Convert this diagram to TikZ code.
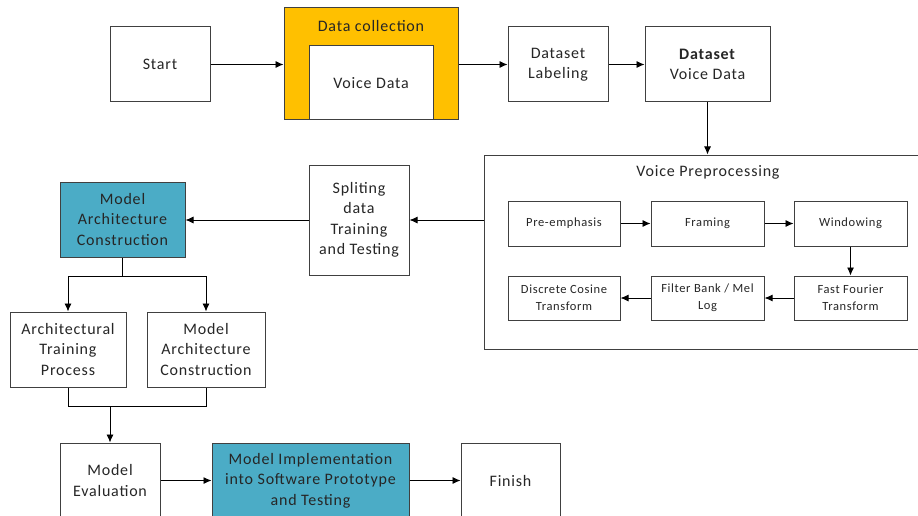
\documentclass[tikz,border=0pt]{standalone}
\usepackage{fontspec}
\setmainfont{Carlito}[LetterSpace=5]
\usetikzlibrary{arrows.meta}
\definecolor{gold}{HTML}{FFC000}
\definecolor{teal}{HTML}{4BACC6}
\definecolor{edge}{HTML}{404040}
\definecolor{txt}{HTML}{262626}
\tikzset{
  box/.style={draw=edge, line width=1pt, fill=white, inner sep=0pt, align=center,
    text=txt, font=\fontsize{16}{20.5}\selectfont},
  smallbox/.style={box, font=\fontsize{12.5}{17}\selectfont},
  arr/.style={-{Latex[length=8pt,width=7pt]}, line width=0.9pt, draw=black},
  ln/.style={line width=0.9pt, draw=black},
}
\begin{document}
\begin{tikzpicture}[x=1pt,y=-1pt]
\useasboundingbox (0,0) rectangle (918,516);
\clip (0,0) rectangle (918,516);
% top row
\node[box, minimum width=100pt, minimum height=75pt] (start) at (160,64.5) {Start};
\node[box, fill=gold, minimum width=174pt, minimum height=112pt] (dc) at (371,64) {};
\node[text=txt, font=\fontsize{16}{20.5}\selectfont] (dclab) at (371,26) {Data collection};
\node[box, minimum width=124pt, minimum height=74pt] (vd) at (371,83) {Voice Data};
\node[box, minimum width=100pt, minimum height=75pt] (lab) at (558,64.5) {Dataset\\Labeling};
\node[box, minimum width=125pt, minimum height=75pt] (dvd) at (707.5,64.5) {\textbf{Dataset}\\Voice Data};
\draw[arr] (start.east) -- (dc.west |- start.east);
\draw[arr] (dc.east |- lab.west) -- (lab.west);
\draw[arr] (lab.east) -- (dvd.west);
% voice preprocessing
\node[box, minimum width=460pt, minimum height=194pt] (vp) at (714,252) {};
\draw[arr] (dvd.south) -- (dvd.south |- vp.north);
\node[text=txt, font=\fontsize{16}{20.5}\selectfont] (vplab) at (708,172) {Voice Preprocessing};
\node[smallbox, minimum width=112pt, minimum height=45pt] (pre) at (564,223.5) {Pre-emphasis};
\node[smallbox, minimum width=113pt, minimum height=45pt] (fra) at (707.5,223.5) {Framing};
\node[smallbox, minimum width=113pt, minimum height=45pt] (win) at (850.5,223.5) {Windowing};
\node[smallbox, minimum width=112pt, minimum height=44pt] (dct) at (564,298) {Discrete Cosine\\Transform};
\node[smallbox, minimum width=113pt, minimum height=44pt] (fb) at (707.5,298) {Filter Bank / Mel\\Log};
\node[smallbox, minimum width=113pt, minimum height=44pt] (fft) at (850.5,298) {Fast Fourier\\Transform};
\draw[arr] (pre) -- (fra);
\draw[arr] (fra) -- (win);
\draw[arr] (win) -- (fft);
\draw[arr] (fft) -- (fb);
\draw[arr] (fb) -- (dct);
% splitting
\node[box, minimum width=100pt, minimum height=110pt] (spl) at (359,220) {Spliting\\data\\Training\\and Testing};
\draw[arr] (vp.west |- spl.east) -- (spl.east);
\node[box, fill=teal, minimum width=125pt, minimum height=75pt] (mac) at (122.5,219.5) {Model\\Architecture\\Construction};
\draw[arr] (spl.west) -- (mac.east |- spl.west);
% branches
\node[box, minimum width=116pt, minimum height=75pt] (atp) at (68,349.5) {Architectural\\Training\\Process};
\node[box, minimum width=118pt, minimum height=75pt] (mac2) at (206,349.5) {Model\\Architecture\\Construction};
\coordinate (br) at (122.5,276);
\draw[ln] (mac.south) -- (br);
\draw[arr] (br) -| (atp.north);
\draw[arr] (br) -| (mac2.north);
% bottom row
\node[box, minimum width=100pt, minimum height=75pt] (me) at (110,480.5) {Model\\Evaluation};
\node[box, fill=teal, minimum width=197pt, minimum height=75pt] (mi) at (310.5,480.5) {Model Implementation\\into Software Prototype\\and Testing};
\node[box, minimum width=99pt, minimum height=75pt] (fin) at (510.5,480.5) {Finish};
\coordinate (mg) at (110,406);
\draw[ln] (atp.south) |- (mg);
\draw[ln] (mac2.south) |- (mg);
\draw[arr] (mg) -- (me.north);
\draw[arr] (me) -- (mi);
\draw[arr] (mi) -- (fin);
\end{tikzpicture}
\end{document}
